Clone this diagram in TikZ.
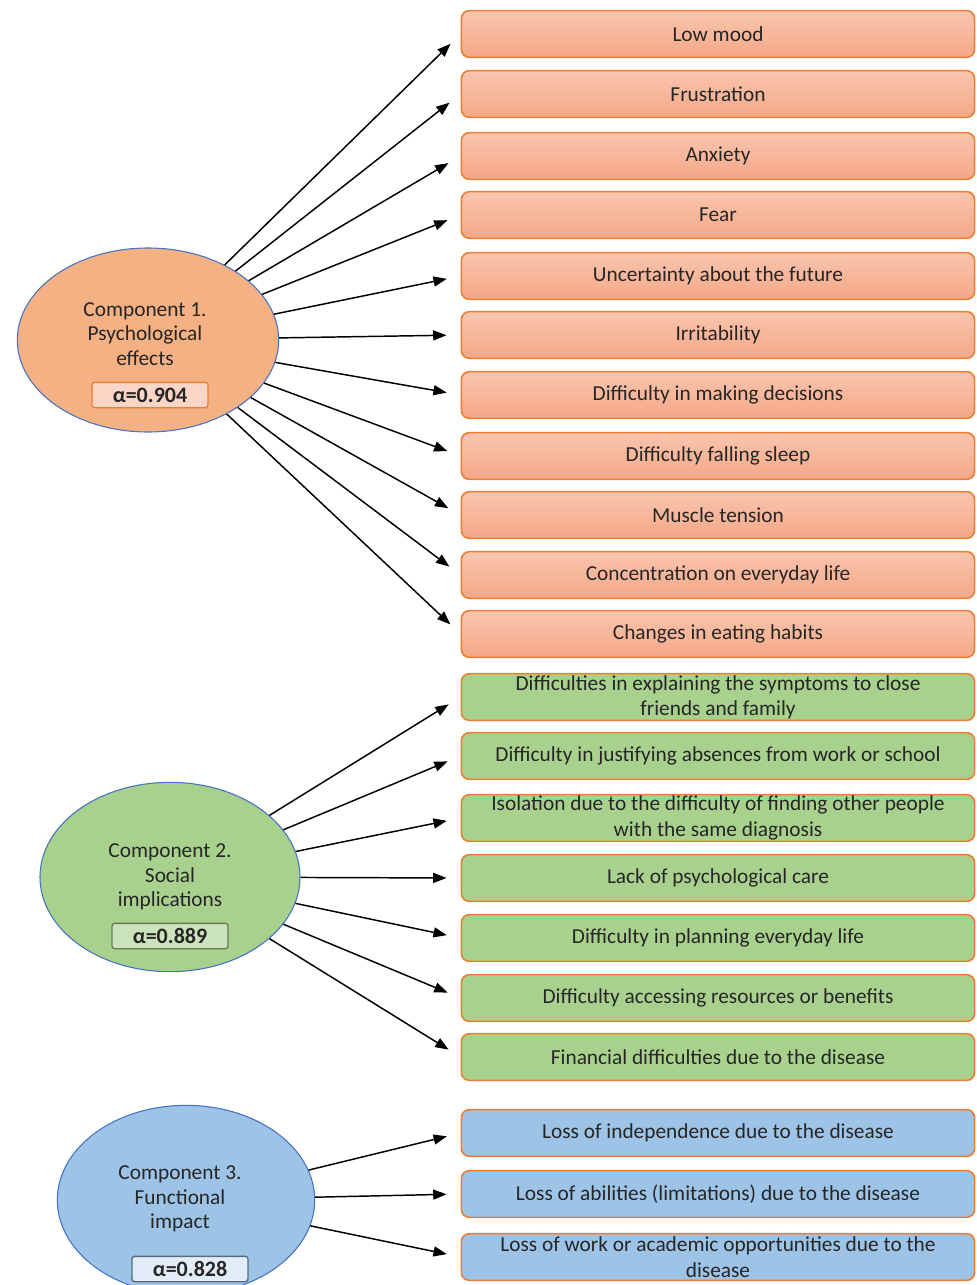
\documentclass[tikz,border=0pt]{standalone}
\usepackage{fontspec}
\setmainfont{Carlito}
\usetikzlibrary{shapes.geometric,arrows.meta}
\definecolor{txt}{HTML}{262626}
\definecolor{oline}{HTML}{ED7D31}
\definecolor{otop}{HTML}{F9C5AE}
\definecolor{obot}{HTML}{F4A887}
\definecolor{ofill}{HTML}{F4B183}
\definecolor{gfill}{HTML}{A9D18E}
\definecolor{bfill}{HTML}{9DC3E6}
\definecolor{eline}{HTML}{4472C4}
\tikzset{item/.style={draw=oline, line width=1.2pt, rounded corners=6pt, minimum width=385pt, minimum height=35pt, inner sep=1pt, align=center, text=txt, font=\fontsize{16}{19}\selectfont}}
\tikzset{OB/.style={item, top color=otop, bottom color=obot}}
\tikzset{GB/.style={item, fill=gfill}}
\tikzset{BB/.style={item, fill=bfill}}
\tikzset{comp/.style={ellipse, draw=eline, line width=0.8pt, inner sep=0pt}}
\tikzset{ctext/.style={align=center, text=txt, font=\fontsize{16}{18.5}\selectfont}}
\tikzset{alph/.style={rounded corners=2pt, line width=1pt, minimum width=87pt, minimum height=19pt, inner sep=0pt, text=txt, font=\fontsize{16.5}{18}\selectfont\bfseries}}
\tikzset{arr/.style={-{Triangle[length=10pt,width=7.5pt]}, line width=1.1pt, shorten >=10.5pt}}

\begin{document}
\begin{tikzpicture}[x=0.75pt,y=-0.75pt]
  \useasboundingbox (0,0) rectangle (977,1285);
  \clip (0,0) rectangle (977,1285);
  % components
  \node[comp, fill=ofill, minimum width=196pt, minimum height=138pt] (e1) at (148,340) {};
  \node[comp, fill=gfill, minimum width=195pt, minimum height=142pt] (e2) at (170,877) {};
  \node[comp, fill=bfill, minimum width=193pt, minimum height=142pt] (e3) at (186,1200) {};
  \node[ctext] (t1) at (145,334) {Component 1.\\Psychological\\effects};
  \node[ctext] (t2) at (170,877) {Component 2.\\Social\\implications};
  \node[ctext] (t3) at (180,1199) {Component 3.\\Functional\\impact};
  \node[alph, draw=oline, fill=otop!70!white] (a1) at (150,395) {α=0.904};
  \node[alph, draw=gfill!60!black, fill=gfill!60!white] (a2) at (170,936) {α=0.889};
  \node[alph, draw=bfill!55!black, fill=bfill!30!white] (a3) at (190,1269) {α=0.828};
  % psychological effects
  \node[OB] (p1) at (718,34) {Low mood};
  \node[OB] (p2) at (718,94) {Frustration};
  \node[OB] (p3) at (718,156) {Anxiety};
  \node[OB] (p4) at (718,215) {Fear};
  \node[OB] (p5) at (718,276) {Uncertainty about the future};
  \node[OB] (p6) at (718,335) {Irritability};
  \node[OB] (p7) at (718,395) {Difficulty in making decisions};
  \node[OB] (p8) at (718,456) {Difficulty falling sleep};
  \node[OB] (p9) at (718,515) {Muscle tension};
  \node[OB] (p10) at (718,575) {Concentration on everyday life};
  \node[OB] (p11) at (718,634) {Changes in eating habits};
  % social implications
  \node[GB] (s1) at (718,697) {Difficulties in explaining the symptoms to close\\friends and family};
  \node[GB] (s2) at (718,756) {Difficulty in justifying absences from work or school};
  \node[GB] (s3) at (718,818) {Isolation due to the difficulty of finding other people\\with the same diagnosis};
  \node[GB] (s4) at (718,878) {Lack of psychological care};
  \node[GB] (s5) at (718,938) {Difficulty in planning everyday life};
  \node[GB] (s6) at (718,998) {Difficulty accessing resources or benefits};
  \node[GB] (s7) at (718,1057) {Financial difficulties due to the disease};
  % functional impact
  \node[BB] (f1) at (718,1133) {Loss of independence due to the disease};
  \node[BB] (f2) at (718,1194) {Loss of abilities (limitations) due to the disease};
  \node[BB] (f3) at (718,1257) {Loss of work or academic opportunities due to the\\disease};
  % arrows
  \foreach \i in {1,...,11} \draw[arr] (e1) -- (p\i.west);
  \foreach \i in {1,...,7} \draw[arr] (e2) -- (s\i.west);
  \foreach \i in {1,...,3} \draw[arr] (e3) -- (f\i.west);
\end{tikzpicture}
\end{document}
